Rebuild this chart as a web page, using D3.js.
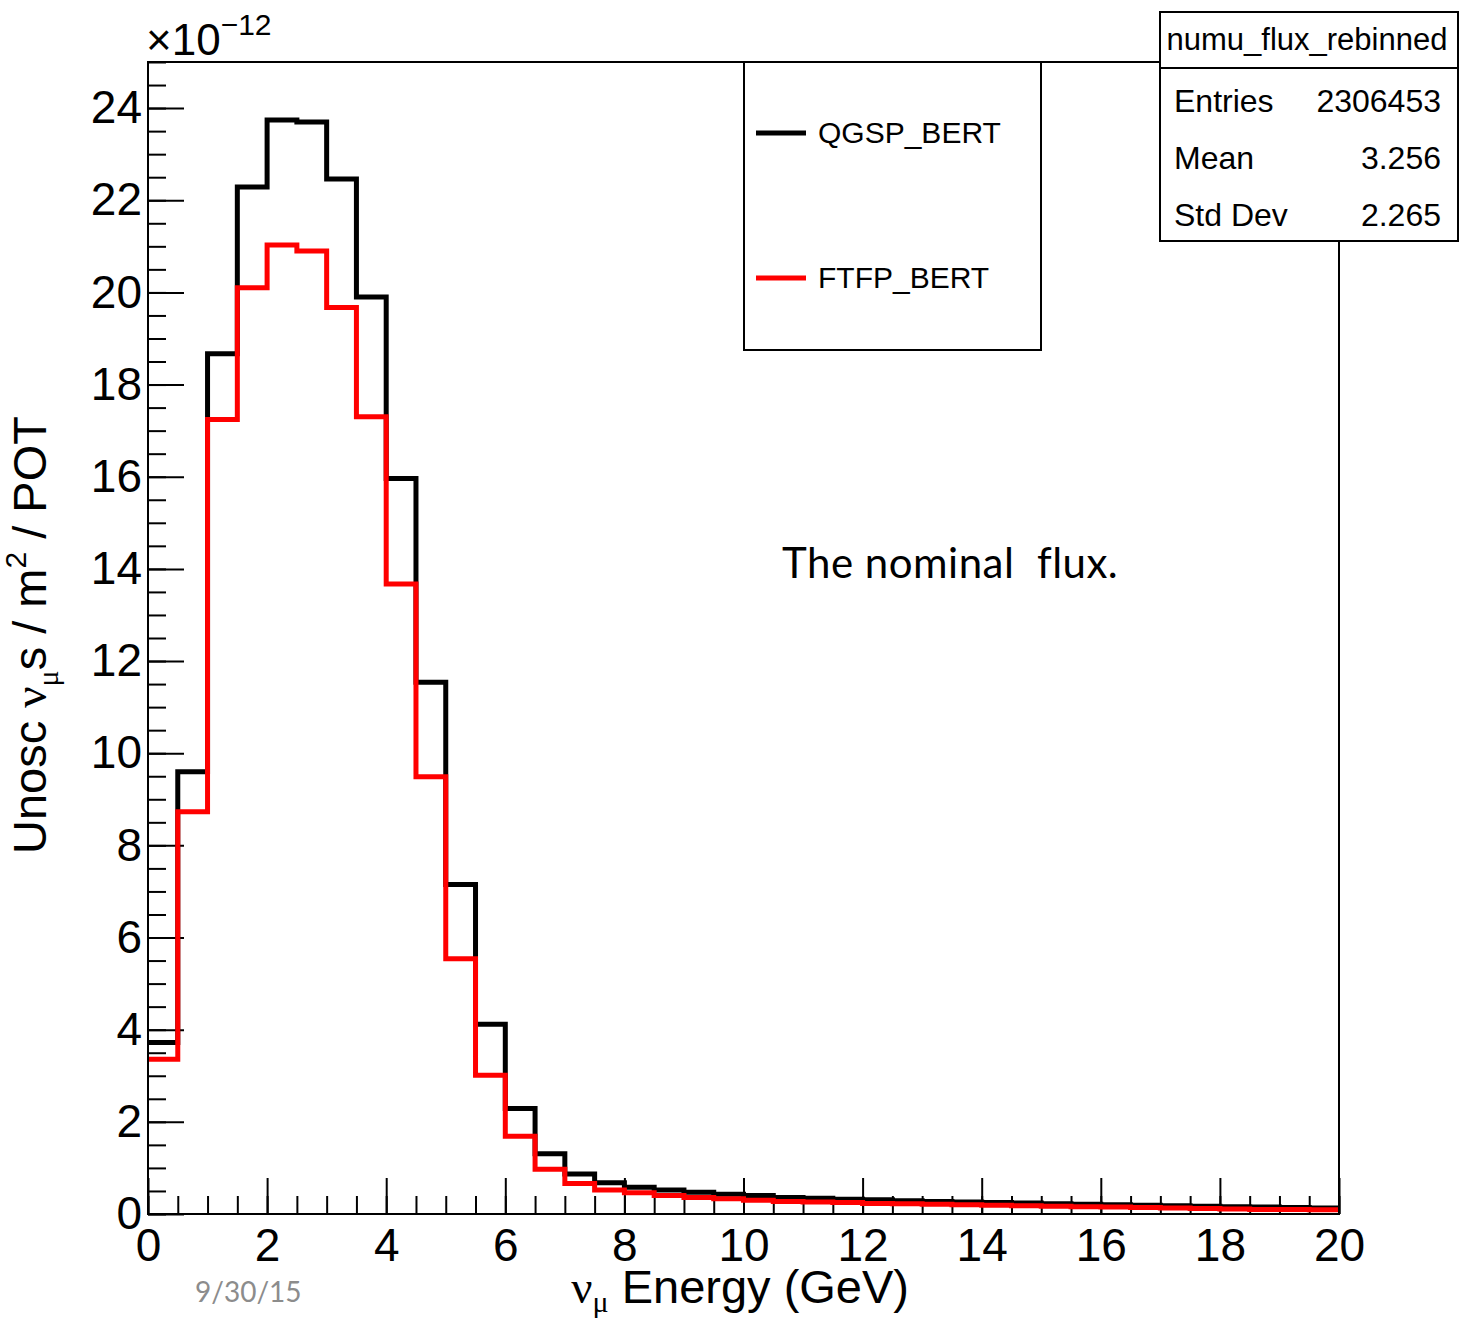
<!DOCTYPE html>
<html>
<head>
<meta charset="utf-8">
<script src="https://cdn.jsdelivr.net/npm/d3@7"></script>
<style>
  body { margin: 0; background: #fff; }
  svg { display: block; }
  text { font-family: "Liberation Sans", Arial, sans-serif; }
  .greek { font-family: "Liberation Serif", "Times New Roman", serif; }
</style>
</head>
<body>
<div id="chart"></div>
<script>
// bin edges are 0.5 GeV wide, 0..20 GeV
var binWidth = 0.5;
var qgspBert = [3.72, 9.6, 18.67, 22.29, 23.74, 23.7, 22.46, 19.9, 15.96, 11.54,
                7.15, 4.12, 2.29, 1.31, 0.87, 0.68, 0.58, 0.52, 0.47, 0.43,
                0.40, 0.36, 0.34, 0.32, 0.31, 0.29, 0.27, 0.26, 0.25, 0.24,
                0.22, 0.21, 0.20, 0.19, 0.18, 0.17, 0.16, 0.15, 0.14, 0.13];
var ftfpBert = [3.36, 8.73, 17.24, 20.1, 21.03, 20.9, 19.67, 17.3, 13.67, 9.49,
                5.54, 3.01, 1.69, 0.97, 0.66, 0.52, 0.46, 0.40, 0.36, 0.33,
                0.30, 0.27, 0.26, 0.25, 0.23, 0.22, 0.21, 0.20, 0.19, 0.18,
                0.17, 0.16, 0.15, 0.14, 0.13, 0.12, 0.11, 0.10, 0.10, 0.09];
var xTicks = [0, 2, 4, 6, 8, 10, 12, 14, 16, 18, 20];
var yTicks = [0, 2, 4, 6, 8, 10, 12, 14, 16, 18, 20, 22, 24];
var statLabels = ['Entries', 'Mean', 'Std Dev'];
var statValues = ['2306453', '3.256', '2.265'];
var seriesNames = ['QGSP_BERT', 'FTFP_BERT'];
var seriesColors = ['#000000', '#ff0000'];

var W = 1459, H = 1320;
var svg = d3.select('#chart').append('svg').attr('width', W).attr('height', H);

var x = d3.scaleLinear().domain([0, 20]).range([148, 1339]);
var y = d3.scaleLinear().domain([0, 25]).range([1214, 62]);

// minor ticks
var minorX = d3.range(0, 20.01, 0.5);
var minorY = d3.range(0, 25.01, 0.5);

svg.append('g')
    .attr('transform', 'translate(0,' + y(0) + ')')
    .call(d3.axisBottom(x).tickValues(minorX).tickSize(-18).tickFormat(''))
    .call(g => g.select('.domain').remove())
    .selectAll('line').attr('stroke-width', 2);

svg.append('g')
    .attr('transform', 'translate(' + x(0) + ',0)')
    .call(d3.axisLeft(y).tickValues(minorY).tickSize(-18).tickFormat(''))
    .call(g => g.select('.domain').remove())
    .selectAll('line').attr('stroke-width', 2);

// major ticks + labels
var xAxis = svg.append('g')
    .attr('transform', 'translate(0,' + y(0) + ')')
    .call(d3.axisBottom(x).tickValues(xTicks).tickSize(-36).tickPadding(14).tickFormat(d3.format('d')))
    .call(g => g.select('.domain').remove());
xAxis.selectAll('line').attr('stroke-width', 2);
xAxis.selectAll('text').style('font-size', '46px').attr('fill', '#000')
    .style('font-family', '"Liberation Sans", Arial, sans-serif');

var yAxis = svg.append('g')
    .attr('transform', 'translate(' + x(0) + ',0)')
    .call(d3.axisLeft(y).tickValues(yTicks).tickSize(-36).tickPadding(6).tickFormat(d3.format('d')))
    .call(g => g.select('.domain').remove());
yAxis.selectAll('line').attr('stroke-width', 2);
yAxis.selectAll('text').style('font-size', '46px').attr('fill', '#000')
    .style('font-family', '"Liberation Sans", Arial, sans-serif');

// histograms
function stepPoints(vals) {
    var pts = vals.map((v, i) => [i * binWidth, v]);
    pts.push([vals.length * binWidth, vals[vals.length - 1]]);
    return pts;
}
var line = d3.line()
    .x(d => x(d[0]))
    .y(d => y(d[1]))
    .curve(d3.curveStepAfter);

[qgspBert, ftfpBert].forEach((vals, i) => {
    svg.append('path')
        .attr('d', line(stepPoints(vals)))
        .attr('fill', 'none')
        .attr('stroke', seriesColors[i])
        .attr('stroke-width', 5)
        .attr('stroke-linejoin', 'miter')
        .attr('stroke-linecap', 'butt');
});

// frame
svg.append('rect')
    .attr('x', x(0)).attr('y', y(25))
    .attr('width', x(20) - x(0)).attr('height', y(0) - y(25))
    .attr('fill', 'none').attr('stroke', '#000').attr('stroke-width', 2);

// exponent label
var expo = svg.append('text').attr('x', 146).attr('y', 55).style('font-size', '44px');
expo.append('tspan').text('\u00d710');
expo.append('tspan').attr('dy', -20).style('font-size', '30px').text('\u221212');

// axis titles
var xt = svg.append('text')
    .attr('x', 909).attr('y', 1303)
    .attr('text-anchor', 'end')
    .style('font-size', '47px');
xt.append('tspan').attr('class', 'greek').text('\u03bd');
xt.append('tspan').attr('class', 'greek').attr('dy', 9).style('font-size', '30px').text('\u03bc');
xt.append('tspan').attr('dy', -9).text(' Energy (GeV)');

var yt = svg.append('text')
    .attr('transform', 'translate(46,635) rotate(-90)')
    .attr('text-anchor', 'middle')
    .style('font-size', '47px');
yt.append('tspan').text('Unosc ');
yt.append('tspan').attr('class', 'greek').text('\u03bd');
yt.append('tspan').attr('class', 'greek').attr('dy', 12).style('font-size', '30px').text('\u03bc');
yt.append('tspan').attr('dy', -12).text('s / m');
yt.append('tspan').attr('dy', -20).style('font-size', '30px').text('2');
yt.append('tspan').attr('dy', 20).text(' / POT');

// legend
var leg = svg.append('g');
leg.append('rect')
    .attr('x', 744).attr('y', 62).attr('width', 297).attr('height', 288)
    .attr('fill', '#fff').attr('stroke', '#000').attr('stroke-width', 2);
seriesNames.forEach((name, i) => {
    var ly = 133 + i * 145;
    leg.append('line')
        .attr('x1', 756).attr('x2', 806).attr('y1', ly).attr('y2', ly)
        .attr('stroke', seriesColors[i]).attr('stroke-width', 5);
    leg.append('text')
        .attr('x', 818).attr('y', ly + 10)
        .style('font-size', '30px')
        .text(name);
});

// stats box
var st = svg.append('g');
st.append('rect')
    .attr('x', 1160).attr('y', 12).attr('width', 298).attr('height', 229)
    .attr('fill', '#fff').attr('stroke', '#000').attr('stroke-width', 2);
st.append('line')
    .attr('x1', 1160).attr('x2', 1458).attr('y1', 68).attr('y2', 68)
    .attr('stroke', '#000').attr('stroke-width', 2);
st.append('text')
    .attr('x', 1307).attr('y', 50)
    .attr('text-anchor', 'middle')
    .style('font-size', '31px')
    .text('numu_flux_rebinned');
statLabels.forEach((lab, i) => {
    var sy = 112 + i * 57;
    st.append('text').attr('x', 1174).attr('y', sy).style('font-size', '32px').text(lab);
    st.append('text').attr('x', 1441).attr('y', sy).attr('text-anchor', 'end')
        .style('font-size', '32px').text(statValues[i]);
});

// annotations
svg.append('text')
    .attr('x', 782).attr('y', 578)
    .style('font-family', 'Lato, "Open Sans", sans-serif')
    .style('font-size', '42px')
    .style('letter-spacing', '0.5px')
    .style('white-space', 'pre')
    .text('The nominal  flux.');

svg.append('text')
    .attr('x', 195).attr('y', 1302)
    .style('font-family', 'Lato, "Open Sans", sans-serif')
    .style('font-size', '28px')
    .attr('fill', '#8c8c8c')
    .text('9/30/15');
</script>
</body>
</html>
